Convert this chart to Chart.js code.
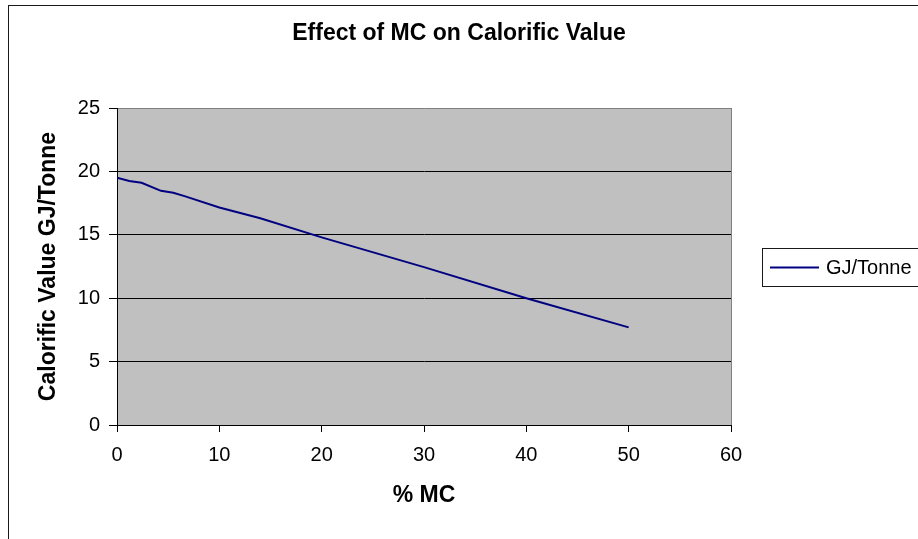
<!DOCTYPE html>
<html>
<head>
<meta charset="utf-8">
<script src="https://cdn.jsdelivr.net/npm/chart.js@4/dist/chart.umd.min.js"></script>
<style>
  html, body { margin: 0; padding: 0; background: #ffffff; }
  #wrap { width: 918px; height: 539px; position: relative; }
</style>
</head>
<body>
<div id="wrap"><canvas id="c" width="918" height="539"></canvas></div>
<script>
// ---- data ----
const chartTitle = 'Effect of MC on Calorific Value';
const xAxisTitle = '% MC';
const yAxisTitle = 'Calorific Value GJ/Tonne';
const seriesLabel = 'GJ/Tonne';
const mcValues = [0, 1.2, 2.4, 4.3, 5.5, 6.6, 10, 14, 20, 30, 40, 50];
const gjValues = [19.5, 19.25, 19.1, 18.47, 18.32, 18.05, 17.15, 16.3, 14.8, 12.45, 10.0, 7.7];
const xTicks = [0, 10, 20, 30, 40, 50, 60];
const yTicks = [0, 5, 10, 15, 20, 25];

const FONT = "'Liberation Sans', Arial, sans-serif";
Chart.defaults.font.family = FONT;
Chart.defaults.color = '#000';

const points = mcValues.map((x, i) => ({ x: x, y: gjValues[i] }));

const decor = {
  id: 'decor',
  beforeDraw(chart) {
    const { ctx, chartArea: a } = chart;
    ctx.save();
    ctx.fillStyle = '#ffffff';
    ctx.fillRect(0, 0, chart.width, chart.height);
    ctx.fillStyle = '#C0C0C0';
    ctx.fillRect(a.left, a.top, a.right - a.left, a.bottom - a.top);
    // outer chart border
    ctx.strokeStyle = '#1a1a1a';
    ctx.lineWidth = 1;
    ctx.strokeRect(8.5, 5.5, chart.width + 10, chart.height + 10);
    ctx.restore();
  },
  afterDraw(chart) {
    const { ctx, chartArea: a } = chart;
    const ds = chart.data.datasets[0];
    const cy = Math.round((a.top + a.bottom) / 2) + 0.5;
    ctx.save();
    // legend box
    ctx.strokeStyle = '#1a1a1a';
    ctx.lineWidth = 1;
    ctx.fillStyle = '#ffffff';
    ctx.fillRect(a.right + 31.5, cy - 19, chart.width, 38);
    ctx.strokeRect(a.right + 31.5, cy - 19, chart.width, 38);
    // sample line
    ctx.strokeStyle = ds.borderColor;
    ctx.lineWidth = ds.borderWidth;
    ctx.beginPath();
    ctx.moveTo(a.right + 39, cy);
    ctx.lineTo(a.right + 88, cy);
    ctx.stroke();
    ctx.fillStyle = '#000';
    ctx.font = '20px ' + FONT;
    ctx.textBaseline = 'middle';
    ctx.textAlign = 'left';
    ctx.fillText(ds.label, a.right + 95, cy + 1);
    ctx.restore();
  }
};

new Chart(document.getElementById('c'), {
  type: 'line',
  data: {
    datasets: [{
      label: seriesLabel,
      data: points,
      borderColor: '#000080',
      backgroundColor: '#000080',
      borderWidth: 2,
      pointRadius: 0,
      tension: 0,
      fill: false
    }]
  },
  options: {
    responsive: false,
    animation: false,
    layout: { padding: 0 },
    plugins: {
      legend: { display: false },
      tooltip: { enabled: false },
      title: {
        display: true,
        text: chartTitle,
        color: '#000',
        font: { size: 23, weight: 'bold', lineHeight: 1.2 },
        padding: { top: 20.2, bottom: 60.2 }
      }
    },
    scales: {
      x: {
        type: 'linear',
        min: 0, max: 60,
        afterBuildTicks(s) { s.ticks = xTicks.map(v => ({ value: v })); },
        afterFit(s) { s.height = 114; },
        ticks: { font: { size: 20 }, color: '#000', padding: 11, maxRotation: 0 },
        grid: {
          drawOnChartArea: true,
          color: c => (c.tick && c.tick.value === 60) ? '#808080' : 'rgba(0,0,0,0)',
          tickColor: '#000',
          tickLength: 7,
          lineWidth: 1
        },
        border: { display: true, color: '#000', width: 1 },
        title: {
          display: true,
          text: xAxisTitle,
          color: '#000',
          font: { size: 23, weight: 'bold', lineHeight: 1.2 },
          padding: { top: 0, bottom: 29.2 }
        }
      },
      y: {
        type: 'linear',
        min: 0, max: 25,
        afterBuildTicks(s) { s.ticks = yTicks.map(v => ({ value: v })); },
        afterFit(s) { s.width = 117; },
        ticks: { font: { size: 20 }, color: '#000', padding: 9 },
        grid: {
          color: c => (c.tick && c.tick.value === 25) ? '#808080' : '#000',
          tickColor: '#000',
          tickLength: 8,
          lineWidth: 1
        },
        border: { display: true, color: '#000', width: 1 },
        title: {
          display: true,
          text: yAxisTitle,
          color: '#000',
          font: { size: 23, weight: 'bold', lineHeight: 1.2 },
          padding: { top: 35.2, bottom: 0 }
        }
      },
      legendSpace: {
        type: 'linear',
        position: 'right',
        display: true,
        afterFit(s) { s.width = 187; },
        ticks: { display: false },
        grid: { display: false, drawTicks: false },
        border: { display: false },
        title: { display: false }
      }
    }
  },
  plugins: [decor]
});
</script>
</body>
</html>
